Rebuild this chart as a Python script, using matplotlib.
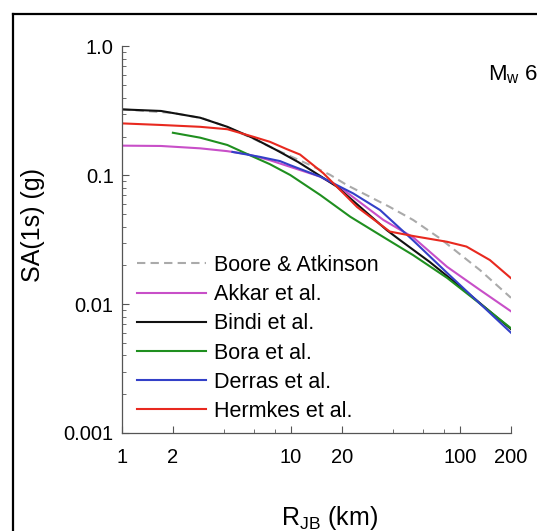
import matplotlib

matplotlib.use("Agg")
import matplotlib.pyplot as plt
from matplotlib.lines import Line2D
from matplotlib.ticker import FixedLocator, LogLocator, NullFormatter

plt.rcParams["font.family"] = ["Liberation Sans", "DejaVu Sans"]
plt.rcParams["mathtext.default"] = "regular"

W, H = 537, 531

# distance (km) / SA(1s) (g)
boore_x = [1, 2, 3, 4, 6, 8, 10, 13, 17, 21.4, 38.2, 52.8, 76, 131, 200]
boore_y = [0.325, 0.305, 0.277, 0.243, 0.192, 0.16, 0.14, 0.12, 0.101, 0.084,
           0.057, 0.045, 0.0324, 0.0184, 0.0112]

akkar_x = [1, 1.7, 2.9, 4.2, 5.5, 7.5, 14.9, 20.4, 35.2, 52.8, 83.7, 131, 200]
akkar_y = [0.170, 0.169, 0.162, 0.154, 0.146, 0.131, 0.0976, 0.0772, 0.045,
           0.0330, 0.0195, 0.0129, 0.0088]

bindi_x = [1, 1.7, 2.9, 4.2, 6.0, 8.2, 11, 14, 18.6, 26.8, 36.8, 44, 66, 100, 200]
bindi_y = [0.325, 0.316, 0.280, 0.238, 0.194, 0.157, 0.127, 0.104, 0.082,
           0.054, 0.0376, 0.0315, 0.0213, 0.0137, 0.0064]

bora_x = [2.0, 2.9, 4.2, 6.0, 7.5, 9.9, 14.9, 22.4, 36.8, 52.8, 83.7, 131, 200]
bora_y = [0.214, 0.196, 0.172, 0.139, 0.122, 0.1005, 0.0703, 0.0477, 0.0320,
          0.0240, 0.0160, 0.0101, 0.0065]

derras_x = [4.5, 6.56, 8.6, 9.87, 14.9, 23.3, 33.6, 52.8, 83.7, 131, 200]
derras_y = [0.152, 0.139, 0.129, 0.120, 0.0976, 0.0724, 0.0538, 0.0312,
            0.0175, 0.0101, 0.0060]

hermkes_x = [1, 1.7, 2.9, 4.2, 6.0, 7.5, 9.4, 11.3, 15.5, 20.4, 24.6, 38.4,
             52.8, 83.7, 109, 150, 200]
hermkes_y = [0.253, 0.246, 0.238, 0.228, 0.199, 0.182, 0.160, 0.145, 0.104,
             0.0726, 0.0567, 0.0366, 0.0338, 0.0305, 0.028, 0.022, 0.0159]

series = [
    ("Boore & Atkinson", boore_x, boore_y, "#aaaaaa", (0, (4, 2.5))),
    ("Akkar et al.", akkar_x, akkar_y, "#c84fc8", "-"),
    ("Bindi et al.", bindi_x, bindi_y, "#111111", "-"),
    ("Bora et al.", bora_x, bora_y, "#1f8f1f", "-"),
    ("Derras et al.", derras_x, derras_y, "#3340c8", "-"),
    ("Hermkes et al.", hermkes_x, hermkes_y, "#e8291f", "-"),
]

x_major = [1, 2, 10, 20, 100, 200]
x_minor = [4, 6, 8, 40, 60, 80]
y_major = [0.001, 0.01, 0.1, 1.0]
y_labels = ["0.001", "0.01", "0.1", "1.0"]

fig = plt.figure(figsize=(W / 100, H / 100), dpi=100)
ax = fig.add_axes([122 / W, 1 - 433 / H, (511 - 122) / W, (433 - 46.5) / H])

for label, xs, ys, color, ls in series:
    ax.plot(xs, ys, color=color, ls=ls, lw=1.5, label=label)

ax.set_xscale("log")
ax.set_yscale("log")
ax.set_xlim(1, 200)
ax.set_ylim(0.001, 1.0)

ax.xaxis.set_major_locator(FixedLocator(x_major))
ax.xaxis.set_minor_locator(FixedLocator(x_minor))
ax.set_xticklabels([str(v) for v in x_major])
ax.xaxis.set_minor_formatter(NullFormatter())
ax.yaxis.set_major_locator(FixedLocator(y_major))
ax.set_yticklabels(y_labels)
ax.yaxis.set_minor_locator(LogLocator(base=10, subs=range(2, 10)))
ax.yaxis.set_minor_formatter(NullFormatter())

for side in ["top", "right"]:
    ax.spines[side].set_visible(False)
for side in ["left", "bottom"]:
    ax.spines[side].set_color("#555555")
    ax.spines[side].set_linewidth(0.9)

ax.tick_params(which="both", direction="in", color="#555555", labelsize=14.5)
ax.tick_params(which="major", length=5, width=0.8)
ax.tick_params(which="minor", length=3, width=0.6)
ax.tick_params(axis="x", pad=11)
ax.tick_params(axis="y", pad=6)

ax.legend(
    loc="upper left",
    bbox_to_anchor=(137 / W, 1 - 255 / H),
    bbox_transform=fig.transFigure,
    frameon=False,
    borderpad=0,
    borderaxespad=0,
    handlelength=3.2,
    handletextpad=0.4,
    labelspacing=0.38,
    fontsize=15.5,
)

fig.text(33 / W, 1 - 225 / H, "SA(1s) (g)", rotation=90, ha="center",
         va="center", fontsize=18)
fig.text(329 / W, 1 - 525 / H, "R$_{JB}$ (km)", ha="center", va="baseline",
         fontsize=18)
fig.text(488 / W, 1 - 80 / H, "M$_w$ 6", ha="left", va="baseline", fontsize=16)

# outer panel frame (cut at the right and bottom)
fig.add_artist(Line2D([13 / W, 13 / W], [0, 1 - 14 / H], transform=fig.transFigure,
                      color="black", lw=1.6))
fig.add_artist(Line2D([13 / W, 1], [1 - 14 / H, 1 - 14 / H], transform=fig.transFigure,
                      color="black", lw=1.6))

fig.savefig("out.png", dpi=100)
